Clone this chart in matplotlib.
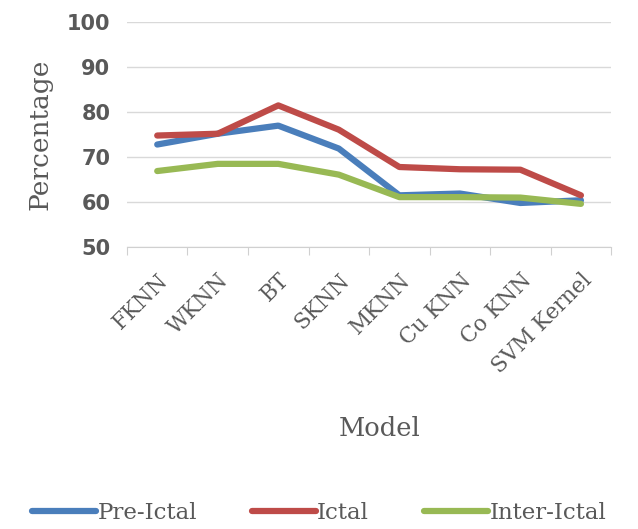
from matplotlib import pyplot as plt
import numpy as np

models = ['FKNN', 'WKNN', 'BT', 'SKNN', 'MKNN', 'Cu KNN', 'Co KNN', 'SVM Kernel']
pre_ictal = [72.8, 75.2, 77.0, 71.9, 61.5, 61.9, 59.8, 60.4]
ictal = [74.8, 75.2, 81.5, 76.1, 67.8, 67.3, 67.2, 61.5]
inter_ictal = [66.9, 68.5, 68.5, 66.1, 61.1, 61.1, 61.0, 59.6]

plt.rcParams['font.family'] = ['DejaVu Serif']
grey = '#595959'

fig = plt.figure(figsize=(6.38, 5.29), dpi=100)
ax = fig.add_axes([0.199, 0.533, 0.759, 0.425])

x = np.arange(len(models))
ax.plot(x, pre_ictal, color='#4a7ebb', lw=4.5, label='Pre-Ictal', solid_capstyle='round')
ax.plot(x, ictal, color='#be4b48', lw=4.5, label='Ictal', solid_capstyle='round')
ax.plot(x, inter_ictal, color='#98b954', lw=4.5, label='Inter-Ictal', solid_capstyle='round')

ax.set_xlim(-0.5, len(models) - 0.5)
ax.set_ylim(50, 100)
ax.set_yticks(range(50, 101, 10))
ax.yaxis.grid(True, color='#d9d9d9', lw=1)
ax.set_axisbelow(True)
for s in ['top', 'right', 'left']:
    ax.spines[s].set_visible(False)
ax.spines['bottom'].set_color('#d0d0d0')

# category labels sit between the tick marks
ax.set_xticks(np.arange(-0.5, len(models)), minor=False)
ax.set_xticklabels([])
ax.set_xticks(x, minor=True)
ax.set_xticklabels(models, minor=True, rotation=45, ha='right', rotation_mode='anchor',
                   fontsize=15.5, color=grey)
ax.tick_params(axis='x', which='major', length=6, color='#d0d0d0')
ax.tick_params(axis='x', which='minor', length=0, pad=16)
ax.tick_params(axis='y', length=0, pad=12)
for lab in ax.get_yticklabels():
    lab.set_fontfamily('DejaVu Sans')
    lab.set_fontsize(15)
    lab.set_fontweight('bold')
    lab.set_color(grey)
for lab in ax.get_xticklabels(minor=True):
    lab.set_x(lab.get_position()[0] + 0.22)

ax.set_ylabel('Percentage', fontsize=19, color=grey, labelpad=10)
fig.text(0.595, 0.175, 'Model', fontsize=18.5, color=grey, ha='center')

fig.legend(loc='center', bbox_to_anchor=(0.5, 0.03), ncol=3, frameon=False,
           fontsize=16.5, handlelength=2.8, handletextpad=0.05, columnspacing=2.4,
           labelcolor=grey)

fig.savefig('out.png', dpi=100)
